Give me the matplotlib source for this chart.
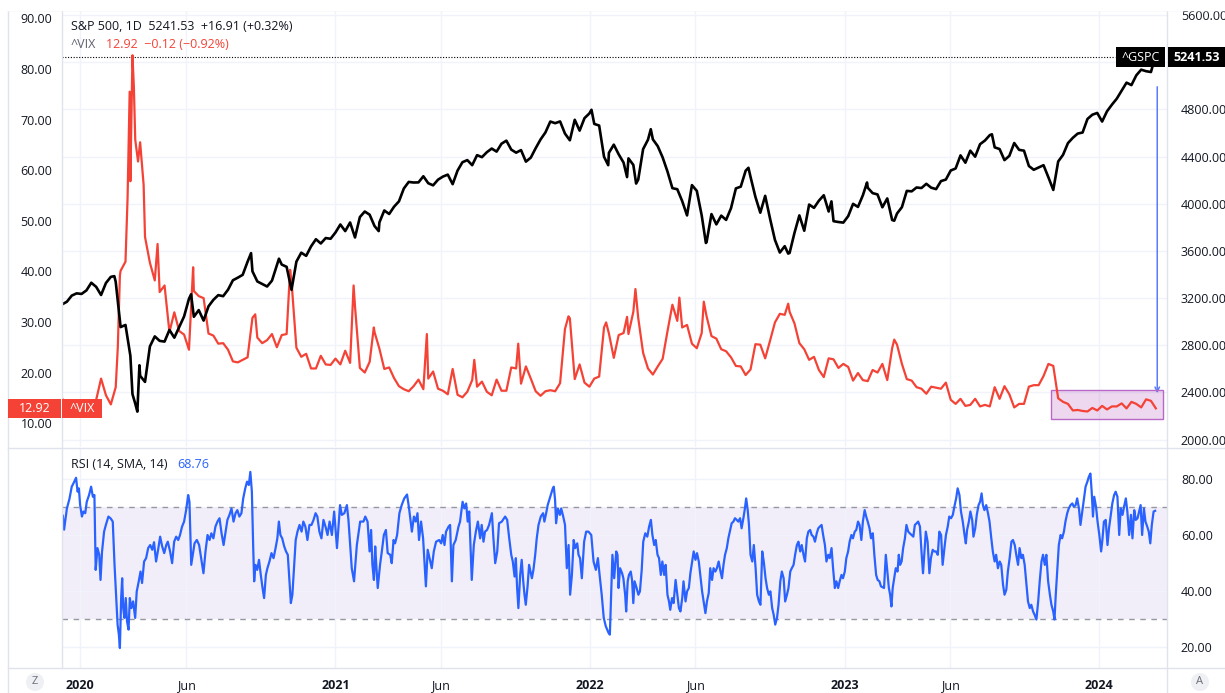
import numpy as np
import pandas as pd
import matplotlib
matplotlib.use("Agg")
import matplotlib.pyplot as plt
import matplotlib.dates as mdates
from matplotlib.patches import Rectangle, Circle
from matplotlib.lines import Line2D
from matplotlib.transforms import IdentityTransform

plt.rcParams['font.family'] = ['Open Sans', 'DejaVu Sans']

# ---------------------------------------------------------------- data
first_week = "2019-12-06"   # weekly closes (Fridays) from here

sp500_weekly = [
    3146, 3169, 3221, 3240,
    3235, 3265, 3330, 3295, 3226, 3328, 3380, 3338, 2954, 2972, 2711, 2305, 2541,
    2489, 2790, 2875, 2837, 2831, 2930, 2864, 2955, 3044, 3194, 3041, 3098, 3009,
    3130, 3185, 3225, 3216, 3271, 3351, 3373, 3397, 3508, 3427, 3341, 3319, 3298,
    3348, 3477, 3484, 3465, 3270, 3509, 3585, 3558, 3638, 3699, 3663, 3709, 3703,
    3756, 3824, 3768, 3841, 3714, 3887, 3934, 3907, 3811, 3842, 3943, 3913, 3975,
    4020, 4129, 4185, 4180, 4181, 4233, 4174, 4156, 4204, 4230, 4247, 4166, 4281,
    4352, 4370, 4327, 4412, 4395, 4437, 4468, 4442, 4509, 4535, 4459, 4433, 4455,
    4357, 4391, 4471, 4545, 4605, 4697, 4683, 4698, 4595, 4538, 4712, 4620, 4726, 4766,
    4677, 4663, 4398, 4432, 4501, 4419, 4349, 4385, 4329, 4204, 4463, 4543, 4546,
    4488, 4393, 4272, 4132, 4123, 4023, 3901, 4158, 4109, 3901, 3675, 3912, 3825,
    3899, 3863, 3962, 4130, 4145, 4280, 4228, 4058, 3924, 4067, 3873, 3693, 3586,
    3640, 3583, 3753, 3901, 3771, 3993, 3965, 4026, 4072, 3934, 3852, 3845, 3840,
    3895, 3999, 3973, 4071, 4136, 4090, 4079, 3970, 4045, 3862, 3917, 3971, 4109,
    4105, 4138, 4133, 4169, 4136, 4124, 4192, 4205, 4282, 4299, 4410, 4348, 4450,
    4399, 4505, 4536, 4582, 4478, 4464, 4370, 4406, 4515, 4457, 4450, 4320, 4288,
    4308, 4327, 4224, 4117, 4358, 4415, 4514, 4559, 4595, 4604, 4719, 4755, 4770,
    4697, 4784, 4840, 4891, 4959, 5027, 5006, 5089, 5137, 5124, 5117, 5241.53,
]

vix_weekly = [
    15.0, 12.6, 12.5, 13.4,
    14.0, 12.6, 12.1, 14.6, 18.8, 15.5, 13.7, 17.1, 40.1, 41.9, 57.8, 66.0, 65.5,
    46.8, 41.7, 38.2, 35.9, 37.2, 28.0, 31.9, 28.2, 27.5, 24.5, 36.1, 35.1, 34.7,
    27.7, 27.3, 25.7, 25.8, 24.5, 22.2, 22.0, 22.5, 23.0, 30.8, 26.9, 25.8, 26.4,
    27.6, 25.0, 27.4, 27.6, 38.0, 24.9, 23.1, 23.7, 20.8, 20.8, 23.3, 21.6, 21.5,
    22.75, 21.6, 24.3, 21.9, 33.1, 20.9, 20.0, 22.1, 28.0, 24.7, 20.7, 21.0, 18.9,
    17.3, 16.7, 16.3, 17.3, 18.6, 16.7, 18.8, 20.2, 16.8, 16.4, 15.7, 20.7, 15.6,
    15.1, 16.2, 18.5, 17.2, 18.2, 16.2, 15.5, 18.6, 16.4, 16.4, 21.0, 20.8, 17.8,
    21.2, 18.8, 16.3, 15.4, 16.3, 16.5, 16.3, 17.9, 28.6, 30.7, 18.7, 21.6, 18.0, 17.2,
    18.8, 19.2, 28.9, 27.7, 22.9, 27.4, 27.8, 27.6, 32.0, 30.8, 23.9, 20.8, 19.6,
    21.2, 22.7, 28.2, 33.4, 30.2, 28.9, 29.4, 25.7, 24.8, 27.8, 31.1, 27.2, 26.7,
    24.6, 24.2, 23.0, 21.3, 21.2, 19.5, 20.6, 25.6, 25.5, 22.8, 26.3, 29.9, 31.6,
    31.4, 32.0, 29.7, 25.8, 24.6, 22.5, 23.1, 20.5, 19.1, 22.8, 22.6, 20.9, 21.7,
    21.1, 18.4, 19.9, 18.5, 18.3, 20.5, 20.0, 21.7, 18.5, 24.8, 25.5, 21.7, 18.7,
    18.4, 17.1, 16.8, 15.8, 17.2, 17.0, 16.8, 18.0, 14.6, 13.8, 14.8, 13.4, 13.6,
    14.8, 13.3, 13.6, 13.3, 17.1, 14.8, 17.3, 15.7, 13.1, 13.8, 13.8, 17.2, 17.5,
    17.5, 19.3, 21.7, 21.3, 14.9, 14.2, 13.8, 12.5, 12.6, 12.4, 12.3, 13.0, 12.5,
    13.4, 12.7, 13.3, 13.3, 13.9, 12.9, 14.2, 13.8, 13.1, 14.7, 14.4, 12.92,
]

# intra-week extremes visible in the daily chart
sp500_extra_dates = ["2020-02-19", "2020-03-16", "2020-03-23", "2020-03-26", "2020-06-08",
                     "2020-09-02", "2020-10-12", "2021-01-27", "2021-03-04", "2022-01-03",
                     "2022-01-27", "2022-02-23", "2022-03-08", "2022-03-29", "2022-06-16",
                     "2022-08-16", "2022-10-12", "2022-12-13", "2023-02-02", "2023-03-13",
                     "2023-07-31", "2024-03-20"]
sp500_extra_values = [3386, 2386, 2237, 2630, 3232, 3581, 3534, 3751, 3768, 4797,
                      4327, 4226, 4171, 4632, 3667, 4305, 3577, 4020, 4180, 3856,
                      4589, 5225]

vix_extra_dates = ["2020-02-24", "2020-02-27", "2020-03-09", "2020-03-12", "2020-03-16",
                   "2020-03-18", "2020-03-24", "2020-04-01", "2020-04-21", "2020-06-11",
                   "2020-09-08", "2020-10-28", "2021-01-27", "2021-02-25", "2021-05-12",
                   "2021-07-19", "2021-09-20", "2021-12-01", "2022-01-24", "2022-02-23",
                   "2022-03-07", "2022-05-09", "2022-06-13", "2022-10-12", "2023-03-13"]
vix_extra_values = [25.0, 39.2, 54.5, 75.5, 82.7, 76.5, 61.7, 57.1, 45.4, 40.8,
                    31.5, 40.3, 37.2, 28.9, 27.6, 22.5, 25.7, 31.1, 29.9, 31.0,
                    36.5, 34.8, 34.0, 33.6, 26.5]

rsi_time = [
    2019.932, 2019.937, 2019.948, 2019.958, 2019.967, 2019.976, 2019.984, 2019.990, 2019.995,
    2020.000, 2020.007, 2020.013, 2020.020, 2020.026, 2020.035, 2020.043, 2020.050, 2020.056,
    2020.061, 2020.068, 2020.075, 2020.080, 2020.086, 2020.094, 2020.101, 2020.111, 2020.120,
    2020.128, 2020.135, 2020.141, 2020.147, 2020.152, 2020.156, 2020.161, 2020.165, 2020.169,
    2020.174, 2020.179, 2020.184, 2020.190, 2020.195, 2020.201, 2020.208, 2020.216, 2020.222,
    2020.230, 2020.237, 2020.243, 2020.251, 2020.259, 2020.267, 2020.275, 2020.283, 2020.290,
    2020.298, 2020.306, 2020.314, 2020.322, 2020.330, 2020.338, 2020.344, 2020.353, 2020.361,
    2020.369, 2020.377, 2020.385, 2020.392, 2020.400, 2020.408, 2020.416, 2020.424, 2020.429,
    2020.436, 2020.442, 2020.449, 2020.458, 2020.467, 2020.475, 2020.484, 2020.492, 2020.500,
    2020.508, 2020.515, 2020.523, 2020.531, 2020.539, 2020.547, 2020.555, 2020.563, 2020.570,
    2020.578, 2020.586, 2020.594, 2020.602, 2020.610, 2020.617, 2020.625, 2020.633, 2020.640,
    2020.648, 2020.655, 2020.662, 2020.668, 2020.674, 2020.679, 2020.683, 2020.688, 2020.695,
    2020.702, 2020.709, 2020.716, 2020.722, 2020.729, 2020.735, 2020.743, 2020.751, 2020.759,
    2020.767, 2020.774, 2020.780, 2020.786, 2020.793, 2020.801, 2020.808, 2020.815, 2020.820,
    2020.827, 2020.833, 2020.840, 2020.846, 2020.853, 2020.861, 2020.869, 2020.876, 2020.884,
    2020.892, 2020.900, 2020.908, 2020.916, 2020.924, 2020.931, 2020.939, 2020.947, 2020.955,
    2020.963, 2020.971, 2020.979, 2020.988, 2020.997,
    2021.008, 2021.020, 2021.027, 2021.037, 2021.047, 2021.053, 2021.066, 2021.075, 2021.086,
    2021.099, 2021.112, 2021.119, 2021.128, 2021.136, 2021.142, 2021.147, 2021.153, 2021.158,
    2021.163, 2021.168, 2021.177, 2021.184, 2021.192, 2021.200, 2021.207, 2021.217, 2021.223,
    2021.230, 2021.236, 2021.244, 2021.253, 2021.262, 2021.272, 2021.283, 2021.291, 2021.302,
    2021.310, 2021.317, 2021.324, 2021.330, 2021.338, 2021.346, 2021.357, 2021.364, 2021.374,
    2021.380, 2021.388, 2021.397, 2021.409, 2021.417, 2021.423, 2021.430, 2021.436, 2021.446,
    2021.452, 2021.459, 2021.465, 2021.474, 2021.485, 2021.491, 2021.501, 2021.508, 2021.515,
    2021.521, 2021.527, 2021.537, 2021.545, 2021.553, 2021.561, 2021.570, 2021.576, 2021.583,
    2021.589, 2021.597, 2021.605, 2021.616, 2021.622, 2021.629, 2021.637, 2021.644, 2021.655,
    2021.668, 2021.676, 2021.684, 2021.692, 2021.698, 2021.705, 2021.710, 2021.715, 2021.720,
    2021.727, 2021.733, 2021.739, 2021.744, 2021.749, 2021.756, 2021.762, 2021.773, 2021.779,
    2021.786, 2021.792, 2021.799, 2021.808, 2021.817, 2021.822, 2021.829, 2021.835, 2021.845,
    2021.855, 2021.859, 2021.864, 2021.868, 2021.875, 2021.883, 2021.888, 2021.896, 2021.903,
    2021.910, 2021.917, 2021.923, 2021.930, 2021.937, 2021.943, 2021.951, 2021.956, 2021.962,
    2021.969, 2021.978, 2021.986, 2021.995, 2022.006, 2022.015, 2022.024, 2022.032, 2022.038,
    2022.047, 2022.055, 2022.063, 2022.074, 2022.079, 2022.089,
    2022.096, 2022.104, 2022.109, 2022.113, 2022.119, 2022.127, 2022.132, 2022.139, 2022.143,
    2022.149, 2022.154, 2022.161, 2022.166, 2022.171, 2022.176, 2022.184, 2022.191, 2022.197,
    2022.204, 2022.210, 2022.218, 2022.226, 2022.233, 2022.240, 2022.246, 2022.253, 2022.259,
    2022.266, 2022.272, 2022.279, 2022.285, 2022.292, 2022.298, 2022.305, 2022.311, 2022.316,
    2022.323, 2022.329, 2022.337, 2022.344, 2022.350, 2022.356, 2022.363, 2022.368, 2022.376,
    2022.382, 2022.389, 2022.395, 2022.402, 2022.408, 2022.415, 2022.421, 2022.428, 2022.434,
    2022.441, 2022.447, 2022.454, 2022.460, 2022.467, 2022.473, 2022.480, 2022.486, 2022.493,
    2022.499, 2022.506, 2022.512, 2022.519, 2022.525, 2022.531, 2022.538, 2022.544, 2022.551,
    2022.557, 2022.564, 2022.570, 2022.577, 2022.583, 2022.590, 2022.596, 2022.603, 2022.609,
    2022.614, 2022.620, 2022.625, 2022.631, 2022.638, 2022.644, 2022.651, 2022.657, 2022.664,
    2022.670, 2022.677, 2022.683, 2022.690, 2022.696, 2022.703, 2022.709, 2022.716, 2022.722,
    2022.728, 2022.735, 2022.741, 2022.748, 2022.754, 2022.761, 2022.767, 2022.774, 2022.780,
    2022.787, 2022.793, 2022.800, 2022.806, 2022.813, 2022.819, 2022.826, 2022.832, 2022.839,
    2022.845, 2022.852, 2022.858, 2022.865, 2022.871, 2022.878, 2022.884, 2022.891, 2022.897,
    2022.903, 2022.910, 2022.916, 2022.923, 2022.929, 2022.936, 2022.942, 2022.949, 2022.955,
    2022.962, 2022.968, 2022.975, 2022.981, 2022.988, 2022.994,
    2023.001, 2023.007, 2023.014, 2023.020, 2023.027, 2023.033, 2023.040, 2023.046, 2023.053,
    2023.059, 2023.066, 2023.072, 2023.079, 2023.085, 2023.091, 2023.098, 2023.104, 2023.111,
    2023.117, 2023.124, 2023.130, 2023.137, 2023.143, 2023.155, 2023.162, 2023.168, 2023.174,
    2023.179, 2023.184, 2023.189, 2023.195, 2023.201, 2023.208, 2023.213, 2023.218, 2023.224,
    2023.230, 2023.237, 2023.243, 2023.250, 2023.256, 2023.263, 2023.270, 2023.276, 2023.283,
    2023.289, 2023.296, 2023.302, 2023.308, 2023.313, 2023.319, 2023.326, 2023.333, 2023.339,
    2023.346, 2023.352, 2023.359, 2023.366, 2023.372, 2023.379, 2023.385, 2023.392, 2023.398,
    2023.405, 2023.411, 2023.418, 2023.425, 2023.431, 2023.438, 2023.444, 2023.451, 2023.457,
    2023.464, 2023.471, 2023.476, 2023.481, 2023.488, 2023.494, 2023.501, 2023.506, 2023.513,
    2023.519, 2023.526, 2023.532, 2023.538, 2023.543, 2023.549, 2023.556, 2023.563, 2023.569,
    2023.576, 2023.582, 2023.589, 2023.595, 2023.602, 2023.609, 2023.615, 2023.622, 2023.628,
    2023.635, 2023.641, 2023.648, 2023.655, 2023.661, 2023.668, 2023.674, 2023.681, 2023.687,
    2023.694, 2023.700, 2023.707, 2023.714, 2023.720, 2023.727, 2023.733, 2023.740, 2023.746,
    2023.753, 2023.760, 2023.766, 2023.773, 2023.779, 2023.786, 2023.792, 2023.799, 2023.806,
    2023.812, 2023.819, 2023.824, 2023.829, 2023.836, 2023.841, 2023.848, 2023.854, 2023.861,
    2023.867, 2023.874, 2023.880, 2023.887, 2023.894, 2023.900, 2023.907, 2023.913, 2023.920,
    2023.926, 2023.933, 2023.940, 2023.946, 2023.953, 2023.959, 2023.965, 2023.970, 2023.975,
    2023.980, 2023.987, 2023.993,
    2024.000, 2024.007, 2024.012, 2024.018, 2024.025, 2024.032, 2024.038, 2024.045, 2024.051,
    2024.058, 2024.064, 2024.071, 2024.078, 2024.084, 2024.091, 2024.097, 2024.104, 2024.110,
    2024.117, 2024.124, 2024.130, 2024.137, 2024.143, 2024.150, 2024.156, 2024.162, 2024.168,
    2024.175, 2024.181, 2024.188, 2024.194, 2024.200, 2024.206, 2024.213, 2024.219,
]
rsi_values = [
    67.0, 62.0, 69.6, 73.0, 77.4, 79.0, 80.6, 75.6, 76.8,
    70.8, 66.7, 68.5, 67.9, 72.0, 74.4, 77.4, 73.8, 74.4,
    47.6, 55.4, 53.0, 44.0, 54.2, 61.3, 63.7, 66.7, 66.0,
    64.9, 49.4, 38.7, 28.0, 24.4, 19.6, 37.5, 44.6, 33.9,
    30.4, 37.5, 29.2, 26.2, 37.5, 33.9, 36.3, 30.4, 39.8,
    43.5, 47.0, 42.9, 50.6, 51.8, 55.4, 56.5, 54.8, 57.5,
    50.6, 54.8, 59.5, 56.0, 53.6, 56.5, 57.7, 54.2, 50.0,
    57.7, 59.5, 58.3, 60.1, 63.1, 64.9, 69.0, 74.4, 72.0,
    49.4, 53.0, 57.1, 58.3, 56.5, 51.8, 46.4, 54.2, 60.1,
    58.3, 60.7, 58.9, 63.1, 64.9, 66.1, 60.7, 56.5, 60.7,
    65.5, 67.3, 69.6, 64.9, 67.9, 69.0, 66.7, 67.9, 73.2,
    76.8, 79.2, 78.0, 82.7, 75.6, 56.5, 43.5, 49.4, 47.6,
    51.2, 45.8, 41.0, 37.5, 45.8, 48.2, 50.6, 53.6, 51.8,
    55.4, 58.9, 64.9, 60.1, 58.9, 56.0, 54.2, 53.0, 45.8,
    35.7, 38.7, 49.4, 58.3, 61.3, 63.7, 61.3, 64.9, 63.1,
    58.3, 63.7, 63.7, 65.5, 67.9, 66.7, 61.3, 58.9, 65.5,
    63.1, 60.1, 64.9, 60.1, 68.5,
    55.4, 70.8, 67.3, 67.9, 70.8, 65.5, 48.2, 43.5, 56.5,
    64.9, 64.9, 66.7, 64.9, 54.2, 61.9, 49.4, 44.0, 56.0,
    48.2, 41.1, 49.4, 54.2, 60.1, 61.9, 53.6, 53.0, 50.0,
    58.3, 57.1, 60.1, 67.9, 70.8, 73.2, 74.6, 69.6, 61.3,
    66.7, 64.9, 67.9, 58.3, 64.9, 58.9, 41.7, 54.8, 50.6,
    48.2, 54.2, 57.7, 58.3, 57.1, 60.1, 56.5, 61.3, 63.1,
    63.7, 43.5, 56.5, 58.3, 63.1, 64.9, 72.0, 69.6, 71.4,
    64.9, 68.5, 44.0, 56.5, 61.3, 64.9, 58.9, 63.7, 57.7,
    61.3, 61.9, 63.7, 67.9, 58.9, 50.0, 54.2, 64.3, 64.9,
    66.7, 65.5, 58.9, 53.0, 50.6, 45.2, 51.8, 41.1, 33.9,
    45.8, 51.2, 43.5, 38.7, 35.1, 41.7, 49.4, 44.6, 47.6,
    53.0, 58.9, 63.7, 66.7, 67.9, 64.9, 67.9, 70.8, 73.8,
    76.8, 77.4, 72.6, 64.3, 69.6, 67.3, 69.6, 66.7, 63.7,
    48.2, 56.5, 38.7, 45.8, 58.3, 55.4, 57.1, 53.0, 51.8,
    44.6, 57.7, 61.3, 61.3, 60.1, 50.6, 47.6, 51.8, 46.4,
    38.7, 30.4, 27.4, 25.0, 24.4, 53.0,
    44.6, 54.2, 53.0, 41.1, 48.2, 46.4, 44.6, 38.7, 32.7,
    43.5, 45.8, 47.0, 44.0, 35.7, 43.5, 41.1, 38.7, 39.9,
    47.6, 57.7, 60.7, 59.5, 63.1, 65.5, 60.1, 56.5, 58.3,
    53.0, 51.8, 45.8, 50.6, 45.8, 49.4, 38.7, 36.3, 33.3,
    37.5, 35.7, 44.0, 38.7, 33.9, 32.7, 37.5, 43.5, 36.3,
    39.9, 41.1, 46.4, 50.6, 54.2, 51.2, 53.6, 50.6, 45.8,
    39.9, 36.3, 32.1, 36.3, 39.3, 48.2, 44.0, 48.2, 47.0,
    48.2, 50.6, 47.6, 44.6, 49.4, 53.0, 55.4, 58.9, 61.9,
    64.3, 64.9, 66.1, 65.5, 64.9, 66.1, 62.5, 66.1, 69.6,
    73.2, 69.0, 63.7, 53.0, 50.6, 56.5, 48.2, 38.7, 36.3,
    35.1, 54.2, 50.6, 44.6, 41.1, 38.7, 39.9, 33.9, 31.5,
    28.0, 30.4, 35.1, 43.5, 47.0, 44.6, 36.3, 38.7, 41.1,
    47.0, 48.2, 49.4, 53.0, 56.5, 57.7, 54.2, 56.5, 53.0,
    50.6, 58.9, 61.3, 61.9, 60.1, 59.5, 57.7, 60.7, 62.5,
    63.1, 63.7, 60.1, 56.5, 50.6, 53.0, 51.8, 55.4, 48.2,
    41.1, 43.5, 41.1, 43.5, 45.8, 44.6,
    47.0, 51.8, 54.2, 57.7, 60.1, 58.9, 61.3, 61.9, 64.9,
    63.7, 58.3, 64.9, 69.0, 66.7, 64.9, 62.5, 58.9, 60.7,
    53.0, 45.8, 44.0, 43.5, 41.7, 41.1, 53.0, 47.0, 41.1,
    38.7, 34.5, 41.1, 44.6, 48.2, 47.0, 53.0, 49.4, 50.6,
    55.4, 58.9, 63.7, 61.3, 60.7, 60.1, 59.5, 63.7, 64.3,
    64.9, 63.1, 54.2, 46.4, 53.0, 61.3, 57.7, 46.4, 51.8,
    54.8, 54.2, 54.2, 53.0, 61.3, 60.1, 49.4, 55.4, 60.1,
    63.1, 66.7, 66.1, 67.3, 70.2, 73.2, 76.8, 74.4, 68.5,
    64.9, 60.1, 57.1, 61.9, 64.9, 68.5, 65.5, 59.5, 62.5,
    67.3, 70.8, 72.0, 75.0, 70.8, 69.0, 70.8, 67.9, 64.9,
    58.9, 54.2, 50.6, 53.0, 48.2, 50.6, 49.4, 42.3, 38.7,
    40.5, 47.0, 51.8, 57.7, 58.3, 56.5, 53.0, 49.4, 55.4,
    51.8, 53.0, 49.4, 42.3, 36.3, 33.9, 35.1, 32.7, 31.5,
    29.8, 36.3, 43.5, 50.6, 53.0, 49.4, 53.0, 43.5, 38.7,
    35.1, 32.7, 29.8, 38.7, 49.4, 56.5, 60.1, 58.9, 61.3,
    64.9, 67.9, 69.6, 70.8, 71.4, 70.2, 70.8, 73.2, 69.6,
    63.7, 68.5, 73.2, 77.4, 79.2, 81.0, 82.1, 75.6, 66.7,
    73.8, 70.2, 64.9,
    60.1, 54.2, 58.3, 64.9, 65.5, 56.5, 62.5, 67.3, 71.4,
    74.4, 75.6, 73.8, 60.1, 69.6, 67.3, 70.2, 73.2, 68.5,
    60.1, 67.3, 58.9, 69.0, 65.5, 66.1, 68.5, 70.8, 60.1,
    69.6, 64.9, 63.1, 61.3, 57.1, 63.7, 68.5, 68.76,
]

sp_last, sp_chg, sp_chg_pct = 5241.53, 16.91, 0.32
vix_last, vix_chg, vix_chg_pct = 12.92, -0.12, -0.92
rsi_last = 68.76

vix_ticks = [10, 20, 30, 40, 50, 60, 70, 80, 90]
sp_ticks = [2000, 2400, 2800, 3200, 3600, 4000, 4400, 4800, 5200, 5600]
rsi_ticks = [20, 40, 60, 80]
rsi_upper, rsi_lower = 70, 30
x_tick_dates = ["2020-01-01", "2020-06-01", "2021-01-01", "2021-06-01", "2022-01-01",
                "2022-06-01", "2023-01-01", "2023-06-01", "2024-01-01"]
x_tick_labels = ["2020", "Jun", "2021", "Jun", "2022", "Jun", "2023", "Jun", "2024"]

# ---------------------------------------------------------------- build series
def build(weekly, extra_dates, extra_values):
    idx = pd.date_range(first_week, periods=len(weekly), freq="W-FRI")
    s = pd.Series(weekly, index=idx, dtype=float)
    e = pd.Series(extra_values, index=pd.to_datetime(extra_dates), dtype=float)
    return pd.concat([s, e]).sort_index()

sp = build(sp500_weekly, sp500_extra_dates, sp500_extra_values)
vix = build(vix_weekly, vix_extra_dates, vix_extra_values)
rsi_dates = pd.Timestamp("2020-01-01") + pd.to_timedelta((np.array(rsi_time) - 2020.0) * 365.25, unit="D")

# ---------------------------------------------------------------- figure
W, H = 1225, 693
fig = plt.figure(figsize=(W / 100, H / 100), dpi=100)
fig.patch.set_facecolor("white")

def rect(l, t, r, b):
    return [l / W, 1 - b / H, (r - l) / W, (b - t) / H]

PL, PR = 62, 1167
TOP_T, TOP_B = 10, 447
RSI_T, RSI_B = 449, 668

ax_sp = fig.add_axes(rect(PL, TOP_T, PR, TOP_B))
ax_vix = fig.add_axes(rect(PL, TOP_T, PR, TOP_B), sharex=ax_sp)
ax_vix.patch.set_visible(False)
ax_rsi = fig.add_axes(rect(PL, RSI_T, PR, RSI_B), sharex=ax_sp)

TXT = "#131722"
GRID = "#f0f3fa"
RED = "#f44336"
BLUE = "#2962ff"
FS = 9

for a in (ax_sp, ax_vix, ax_rsi):
    for s in a.spines.values():
        s.set_visible(False)

ax_sp.set_xlim(pd.Timestamp("2019-12-06"), pd.Timestamp("2024-04-07"))

# y ranges matching the reference scales
ax_vix.set_ylim(5.28, 91.64)
ax_sp.set_ylim(1937, 5643)
ax_rsi.set_ylim(12.45, 90.9)

# gridlines
xt = pd.to_datetime(x_tick_dates)
ax_sp.set_xticks(xt)
ax_sp.set_yticks(sp_ticks)
# the 5200 label sits under the last-price tag, as in the reference
ax_sp.set_yticklabels(["" if abs(v - sp_last) < 200 else f"{v:.2f}" for v in sp_ticks])
ax_sp.grid(True, color=GRID, lw=1)
ax_sp.set_axisbelow(True)
ax_sp.yaxis.tick_right()
ax_sp.tick_params(axis="y", length=0, pad=10, labelsize=FS, labelcolor=TXT)
ax_sp.tick_params(axis="x", length=0, labelbottom=False)

ax_vix.yaxis.tick_left()
ax_vix.set_yticks(vix_ticks)
ax_vix.set_yticklabels([f"{v:.2f}" for v in vix_ticks])
ax_vix.tick_params(axis="y", length=0, pad=7, labelsize=FS, labelcolor=TXT)
ax_vix.tick_params(axis="x", length=0, labelbottom=False)
ax_vix.grid(False)

ax_rsi.yaxis.tick_right()
ax_rsi.set_yticks(rsi_ticks)
ax_rsi.set_yticklabels([f"{v:.2f}" for v in rsi_ticks])
ax_rsi.set_xticks(xt)
ax_rsi.set_xticklabels(x_tick_labels)
ax_rsi.grid(True, color=GRID, lw=1)
ax_rsi.set_axisbelow(True)
ax_rsi.tick_params(axis="y", length=0, pad=10, labelsize=FS, labelcolor=TXT)
ax_rsi.tick_params(axis="x", length=0, pad=8, labelsize=FS, labelcolor=TXT)
for lab in ax_rsi.get_xticklabels():
    if lab.get_text().isdigit():
        lab.set_fontweight("bold")

# series
ax_vix.plot(vix.index, vix.values, color=RED, lw=1.6, zorder=2, solid_joinstyle="round")
ax_vix.plot(sp.index, sp.values, color="black", lw=1.9, zorder=3,
            transform=ax_sp.transData, solid_joinstyle="round")
ax_vix.set_ylim(5.28, 91.64)

# last price dotted line
ax_sp.axhline(sp_last, xmin=0, xmax=(1115 - PL) / (PR - PL), color="black",
              lw=0.8, ls=(0, (1, 1.5)), zorder=1)

# highlighted VIX range and arrow
x0 = mdates.date2num(pd.Timestamp("2023-10-23"))
x1 = mdates.date2num(pd.Timestamp("2024-04-01"))
ax_vix.add_patch(Rectangle((x0, 10.8), x1 - x0, 5.74, facecolor="#9c27b0", alpha=0.18,
                           edgecolor="none", zorder=1))
ax_vix.add_patch(Rectangle((x0, 10.8), x1 - x0, 5.74, facecolor="none",
                           edgecolor="#ba68c8", lw=1, zorder=1))
xa = pd.Timestamp("2024-03-24")
ax_sp.annotate("", xy=(xa, 2393), xytext=(xa, 4992),
               arrowprops=dict(arrowstyle="->", color="#5b7cff", lw=1.1,
                               shrinkA=0, shrinkB=0, mutation_scale=8))

# RSI pane
ax_rsi.axhspan(rsi_lower, rsi_upper, color="#f2eef9", lw=0, zorder=0.5)
for lv in (rsi_upper, rsi_lower):
    ax_rsi.axhline(lv, color="#9598a1", lw=1, ls=(0, (4, 4)), zorder=1)
ax_rsi.plot(rsi_dates, rsi_values, color=BLUE, lw=1.6, zorder=3, solid_joinstyle="round")

# ---------------------------------------------------------------- frame lines
ID = IdentityTransform()
def hline(y, xa_, xb_, c="#e0e3eb"):
    fig.add_artist(Line2D([xa_, xb_], [H - y, H - y], transform=ID, color=c, lw=1, zorder=4))
def vline(x, ya_, yb_, c="#e0e3eb"):
    fig.add_artist(Line2D([x, x], [H - ya_, H - yb_], transform=ID, color=c, lw=1, zorder=4))

# mask the area above the chart
fig.add_artist(Rectangle((0, H - TOP_T), W, TOP_T, transform=ID, color="white", zorder=5))
hline(TOP_T, 8, W)
hline(448, 8, W)
hline(RSI_B, 8, W)
vline(8, TOP_T, H)
vline(PL, TOP_T, RSI_B)
vline(PR, TOP_T, H)

# ---------------------------------------------------------------- legends
def ptext(x, y, s, **kw):
    return fig.text(x / W, 1 - y / H, s, va="center", ha="left", fontsize=FS, **kw)

ptext(71, 26, f"S&P 500, 1D  {sp_last:.2f}  +{sp_chg:.2f} (+{sp_chg_pct:.2f}%)", color=TXT)
ptext(71, 45, "^VIX", color="#5d606b")
ptext(71 + 35, 45, f"{vix_last:.2f}  \u2212{abs(vix_chg):.2f} (\u2212{abs(vix_chg_pct):.2f}%)",
      color=RED)
ptext(71, 465, "RSI (14, SMA, 14)", color=TXT)
ptext(177, 465, f"{rsi_last:.2f}", color=BLUE)

# price labels on scales (vertical position from the data)
y_sp = ax_sp.transData.transform((0, sp_last))[1]
y_vx = ax_vix.transData.transform((0, vix_last))[1]

def box(xl, xr, yc, hgt, fc, s, bold=False):
    fig.add_artist(Rectangle((xl, yc - hgt / 2), xr - xl, hgt, transform=ID,
                             facecolor=fc, edgecolor="none", zorder=6))
    fig.text(((xl + xr) / 2) / W, yc / H, s, color="white", fontsize=FS, ha="center",
             va="center", zorder=7, fontweight="bold" if bold else "normal")

box(1116, 1165, y_sp, 20, "black", "^GSPC")
box(1168, W, y_sp, 20, "black", f"{sp_last:.2f}", bold=True)
box(8, 61, y_vx, 19, RED, f"{vix_last:.2f}")
box(62, 102, y_vx, 19, RED, "^VIX")

# scale buttons
for cx, letter in ((35, "Z"), (1200, "A")):
    fig.add_artist(Circle((cx, H - 682), 9, transform=ID, facecolor="#eef0f4",
                          edgecolor="none", zorder=6))
    fig.text(cx / W, 1 - 682 / H, letter, fontsize=8, color="#6a6d78", ha="center",
             va="center", zorder=7)

fig.savefig("out.png", dpi=100)
